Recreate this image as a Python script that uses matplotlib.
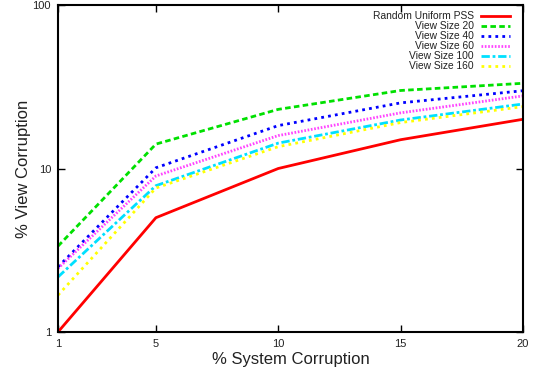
import matplotlib
matplotlib.use("Agg")
import matplotlib.pyplot as plt
from matplotlib.ticker import FixedLocator, FixedFormatter, NullLocator

plt.rcParams['font.family'] = ['Liberation Sans', 'DejaVu Sans']

x_vals = [1, 5, 10, 15, 20]
random_pss = [1.0, 5.0, 10.0, 15.0, 20.0]
view20 = [3.35, 14.1, 23.0, 30.0, 33.2]
view40 = [2.5, 10.1, 18.3, 25.2, 29.9]
view60 = [2.45, 9.0, 15.9, 21.9, 27.8]
view100 = [2.17, 7.85, 14.3, 19.8, 24.8]
view160 = [1.68, 7.6, 13.6, 19.1, 23.9]

labels = ["Random Uniform PSS", "View Size 20", "View Size 40",
          "View Size 60", "View Size 100", "View Size 160"]
x_ticks = [1, 5, 10, 15, 20]
y_ticks = [1, 10, 100]

fig = plt.figure(figsize=(5.39, 3.73), dpi=100)
ax = fig.add_axes([0.1076, 0.1099, 0.8627, 0.8767])

lw = 2.0
ax.plot(x_vals, random_pss, color='#ff0000', lw=lw, ls='-', label=labels[0])
ax.plot(x_vals, view20, color='#00e000', lw=lw, ls=(0, (2, 1.2)), label=labels[1])
ax.plot(x_vals, view40, color='#0000ff', lw=lw, ls=(0, (1, 1.5)), label=labels[2])
ax.plot(x_vals, view60, color='#ff44ff', lw=lw, ls=(0, (0.6, 0.6)), label=labels[3])
ax.plot(x_vals, view100, color='#00e0ff', lw=lw, ls=(0, (3, 1, 1, 1)), label=labels[4])
ax.plot(x_vals, view160, color='#ffff00', lw=lw, ls=(0, (1, 1.5, 1, 1.5)), label=labels[5])

ax.set_yscale('log')
ax.set_xlim(1, 20)
ax.set_ylim(1, 100)
ax.xaxis.set_major_locator(FixedLocator(x_ticks))
ax.xaxis.set_major_formatter(FixedFormatter([str(t) for t in x_ticks]))
ax.yaxis.set_major_locator(FixedLocator(y_ticks))
ax.yaxis.set_major_formatter(FixedFormatter([str(t) for t in y_ticks]))
ax.yaxis.set_minor_locator(NullLocator())
ax.xaxis.set_minor_locator(NullLocator())
ax.tick_params(direction='in', top=True, right=True, length=5, width=1,
               labelsize=8, colors='black', labelcolor='#222222', pad=5)
for s in ax.spines.values():
    s.set_linewidth(1.5)

ax.set_xlabel('% System Corruption', fontsize=12, labelpad=2, color='#222222')
ax.set_ylabel('% View Corruption', fontsize=12, labelpad=1, color='#222222')

leg = ax.legend(loc='upper right', frameon=False, markerfirst=False,
                fontsize=7.4, handlelength=2.8, handletextpad=0.7,
                labelspacing=0.0, borderaxespad=0.3,
                bbox_to_anchor=(1 - 6 / 465, 1 + 1 / 327))
for t in leg.get_texts():
    t.set_ha('right')
    t.set_color('#222222')

fig.savefig('out.png', dpi=100)
